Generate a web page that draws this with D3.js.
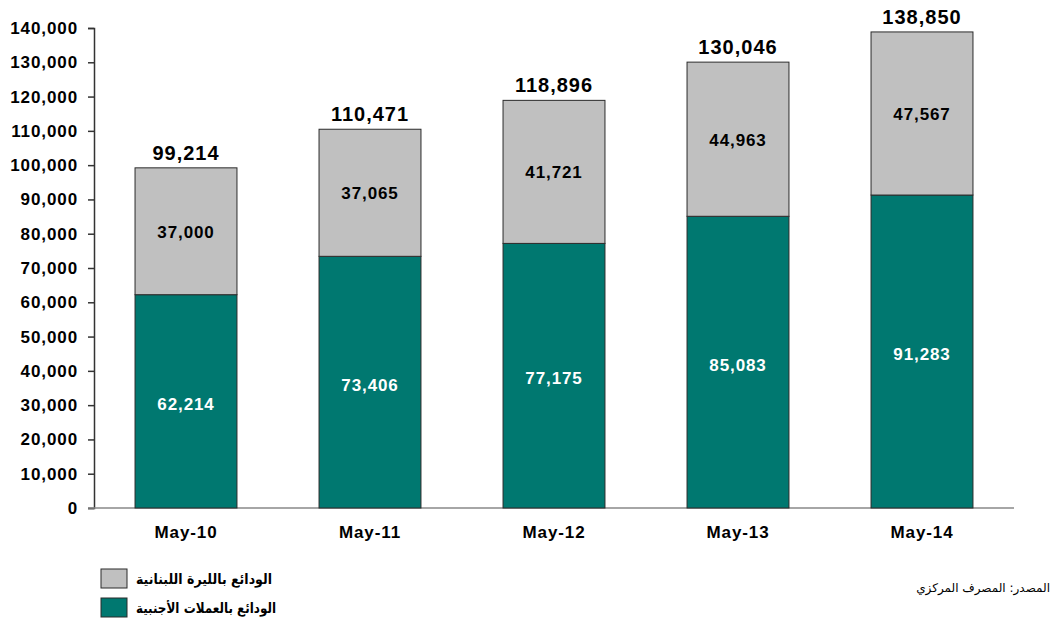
<!DOCTYPE html>
<html><head><meta charset="utf-8">
<script src="https://cdn.jsdelivr.net/npm/d3@7"></script>
<style>body{margin:0;background:#fff}svg{display:block}text{font-family:"Liberation Sans","DejaVu Sans",Arial,sans-serif}</style>
</head><body><svg id="c" width="1051" height="620"></svg>
<script>
const categories = ["May-10","May-11","May-12","May-13","May-14"];
const fxDeposits = [62214, 73406, 77175, 85083, 91283];
const lbpDeposits = [37000, 37065, 41721, 44963, 47567];
const totals = [99214, 110471, 118896, 130046, 138850];
const yTicks = [0,10000,20000,30000,40000,50000,60000,70000,80000,90000,100000,110000,120000,130000,140000];
const legendLabels = ["الودائع بالليرة اللبنانية","الودائع بالعملات الأجنبية"];
const sourceText = "المصدر: المصرف المركزي";

(function(){
const svg = d3.select("#c");
const mLeft = 94, mRight = 1014, mTop = 28, mBottom = 508;
const x = d3.scaleBand().domain(categories).range([mLeft, mRight]).paddingInner(0.446).paddingOuter(0.223);
const y = d3.scaleLinear().domain([0, 140000]).range([mBottom, mTop]);
const fmt = d3.format(",");
const teal = "#007870", gray = "#C0C0C0", edge = "#2b2b2b";

// y axis
const yAxis = svg.append("g").attr("transform", `translate(${mLeft},0)`)
  .call(d3.axisLeft(y).tickValues(yTicks).tickFormat(fmt).tickSize(6).tickPadding(10));
yAxis.select(".domain").attr("stroke", "#333").attr("stroke-width", 1.5);
yAxis.selectAll(".tick line").attr("stroke", "#333").attr("stroke-width", 1.5);
yAxis.selectAll(".tick text").attr("font-size", 17).attr("font-weight", "bold")
  .attr("fill", "#000").style("letter-spacing", "0.9px").style("font-family", '"Liberation Sans",Arial,sans-serif');

// x axis
const xAxis = svg.append("g").attr("transform", `translate(0,${mBottom})`)
  .call(d3.axisBottom(x).tickSize(0).tickPadding(18));
xAxis.select(".domain").attr("stroke", "#888").attr("stroke-width", 1.5).attr("d", `M${mLeft-6},0H${mRight}`);
xAxis.selectAll(".tick text").attr("font-size", 17).attr("font-weight", "bold")
  .attr("fill", "#000").style("letter-spacing", "0.9px").style("font-family", '"Liberation Sans",Arial,sans-serif');

// bars
const g = svg.append("g");
categories.forEach((c, i) => {
  const bx = x(c), bw = x.bandwidth();
  g.append("rect").attr("x", bx).attr("width", bw)
    .attr("y", y(fxDeposits[i])).attr("height", y(0) - y(fxDeposits[i]))
    .attr("fill", teal).attr("stroke", edge).attr("stroke-width", 1);
  g.append("rect").attr("x", bx).attr("width", bw)
    .attr("y", y(fxDeposits[i] + lbpDeposits[i])).attr("height", y(fxDeposits[i]) - y(fxDeposits[i] + lbpDeposits[i]))
    .attr("fill", gray).attr("stroke", edge).attr("stroke-width", 1);
  const cx = bx + bw / 2;
  g.append("text").attr("x", cx).attr("y", (y(0) + y(fxDeposits[i])) / 2 + 3)
    .attr("text-anchor", "middle").attr("dominant-baseline", "central")
    .attr("font-size", 17).attr("font-weight", "bold").attr("fill", "#fff")
    .style("letter-spacing", "0.9px").text(fmt(fxDeposits[i]));
  g.append("text").attr("x", cx).attr("y", (y(fxDeposits[i]) + y(fxDeposits[i] + lbpDeposits[i])) / 2 + 1)
    .attr("text-anchor", "middle").attr("dominant-baseline", "central")
    .attr("font-size", 17).attr("font-weight", "bold").attr("fill", "#000")
    .style("letter-spacing", "0.9px").text(fmt(lbpDeposits[i]));
  g.append("text").attr("x", cx).attr("y", y(totals[i]) - 8)
    .attr("text-anchor", "middle")
    .attr("font-size", 20).attr("font-weight", "bold").attr("fill", "#000")
    .style("letter-spacing", "1px").text(fmt(totals[i]));
});

// legend
const legColors = [gray, teal];
const legWidths = [136, 140];
legendLabels.forEach((t, i) => {
  const ly = 569 + i * 29;
  svg.append("rect").attr("x", 101).attr("y", ly).attr("width", 26).attr("height", 19)
    .attr("fill", legColors[i]).attr("stroke", edge).attr("stroke-width", 1);
  svg.append("text").attr("x", 136).attr("y", ly + 10)
    .attr("text-anchor", "start").attr("dominant-baseline", "central")
    .attr("textLength", legWidths[i]).attr("lengthAdjust", "spacingAndGlyphs")
    .attr("font-size", 14).attr("font-weight", "bold").attr("fill", "#000")
    .style("font-family", '"DejaVu Sans",sans-serif').text(t);
});

// source
svg.append("text").attr("x", 1050).attr("y", 588)
  .attr("direction", "rtl").attr("text-anchor", "start").attr("dominant-baseline", "central")
  .attr("font-size", 12).attr("fill", "#000")
  .style("font-family", '"DejaVu Sans",sans-serif').text(sourceText);
})();
</script></body></html>
